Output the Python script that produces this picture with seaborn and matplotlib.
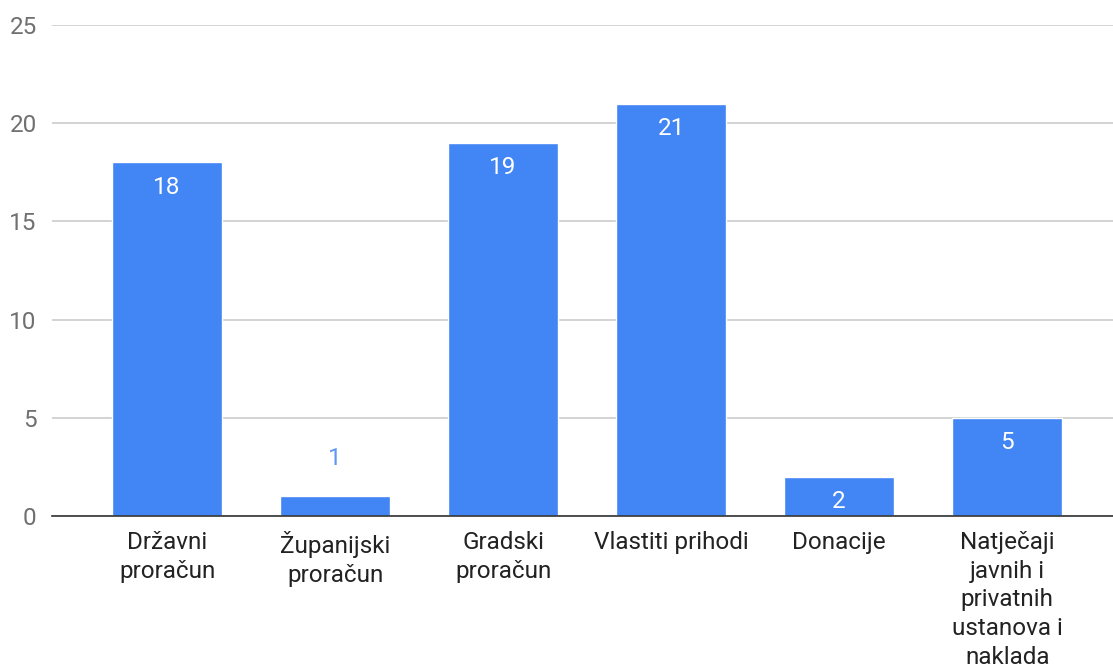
import matplotlib
matplotlib.use("Agg")
import matplotlib.pyplot as plt
import seaborn as sns
import pandas as pd

categories = [
    "Državni\nproračun",
    "Županijski\nproračun",
    "Gradski\nproračun",
    "Vlastiti prihodi",
    "Donacije",
    "Natječaji\njavnih i\nprivatnih\nustanova i\nnaklada",
]
values = [18, 1, 19, 21, 2, 5]

df = pd.DataFrame({"izvor": categories, "broj": values})

sns.set_theme(style="white")
plt.rcParams["font.family"] = ["Roboto", "DejaVu Sans"]

fig = plt.figure(figsize=(11.13, 6.70), dpi=100)
ax = fig.add_axes([52 / 1113, 154 / 670, 1061 / 1113, 491 / 670])

blue = "#4285F4"
sns.barplot(data=df, x="izvor", y="broj", color=blue, width=0.655,
            saturation=1, ax=ax, zorder=3)

ax.set_xlim(-0.685, 5.63)
ax.set_ylim(0, 25)
ax.set_yticks([0, 5, 10, 15, 20, 25])
ax.yaxis.grid(True, color="#cccccc", linewidth=1.2, zorder=0)
ax.set_axisbelow(True)
for s in ["top", "right", "left"]:
    ax.spines[s].set_visible(False)
ax.spines["bottom"].set_color("#333333")
ax.spines["bottom"].set_linewidth(1.2)
ax.spines["bottom"].set_zorder(5)
ax.set_xlabel("")
ax.set_ylabel("")
ax.tick_params(axis="y", length=0, pad=11, labelsize=17.5, labelcolor="#707070")
ax.tick_params(axis="x", length=0, pad=11, labelsize=17.5, labelcolor="#222222")
for lbl in ax.get_xticklabels():
    lbl.set_linespacing(1.31)

for i, v in enumerate(values):
    if v >= 2:
        ax.annotate(str(v), (i, v), xytext=(0, -18), textcoords="offset points",
                    ha="center", va="center", color="white", fontsize=17.5, zorder=6)
    else:
        ax.annotate(str(v), (i, v), xytext=(0, 27), textcoords="offset points",
                    ha="center", va="center", color="#5e97f6", fontsize=17.5, zorder=6)

fig.savefig("out.png", dpi=100)
